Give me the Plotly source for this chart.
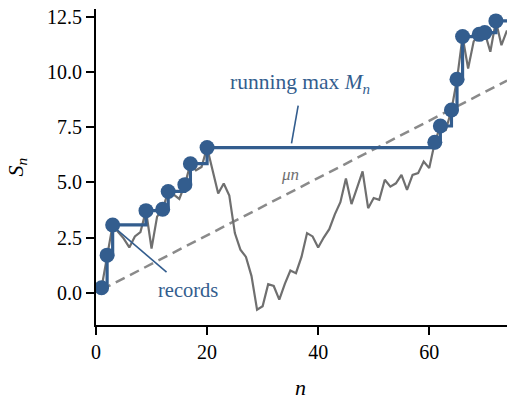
import plotly.graph_objects as go

# ---- data ----
n_vals = list(range(1, 75))
S_vals = [0.22, 1.70, 3.07, 2.75, 2.45, 2.05, 2.55, 2.75, 3.72, 2.00,
          3.45, 3.78, 4.59, 4.45, 4.25, 4.90, 5.85, 5.55, 5.70, 6.58,
          5.50, 4.50, 4.95, 4.40, 2.70, 1.95, 1.62, 0.75, -0.78, -0.62,
          0.38, 0.30, -0.32, 0.40, 1.00, 0.88, 1.62, 2.70, 2.55, 2.05,
          2.50, 2.88, 3.55, 4.10, 5.18, 4.02, 4.75, 5.50, 3.83, 4.29,
          4.21, 5.12, 4.81, 4.96, 5.34, 4.66, 5.34, 5.42, 5.95, 5.65,
          6.82, 7.56, 7.40, 8.29, 9.68, 11.62, 10.17, 11.40, 11.72, 11.80,
          10.93, 12.33, 11.23, 11.90]
mu = 0.13
drift_n = [1, 74]
x_ticks = [0, 20, 40, 60]
y_ticks = [0.0, 2.5, 5.0, 7.5, 10.0, 12.5]

# running maximum and records derived from the walk
M_vals = []
rec_n, rec_s = [], []
cur = None
for n, s in zip(n_vals, S_vals):
    if cur is None or s > cur:
        cur = s
        rec_n.append(n)
        rec_s.append(s)
    M_vals.append(cur)
drift_y = [mu * n for n in drift_n]

BLUE = "#335d8e"
GRAY = "#6f6f6f"
DGRAY = "#8a8a8a"
FONT = "Liberation Serif, Times New Roman, serif"

fig = go.Figure()
fig.add_trace(go.Scatter(x=drift_n, y=drift_y, mode="lines",
                         line=dict(color=DGRAY, width=2.5, dash="10px,6px"),
                         hoverinfo="skip"))
fig.add_trace(go.Scatter(x=n_vals, y=S_vals, mode="lines",
                         line=dict(color=GRAY, width=2.2), hoverinfo="skip"))
fig.add_trace(go.Scatter(x=n_vals, y=M_vals, mode="lines",
                         line=dict(color=BLUE, width=3.2, shape="hv"),
                         hoverinfo="skip"))
fig.add_trace(go.Scatter(x=rec_n, y=rec_s, mode="markers",
                         marker=dict(color=BLUE, size=15), hoverinfo="skip"))

# pointer lines for labels
fig.add_shape(type="line", x0=3.6, y0=2.89, x1=12.7, y1=0.93,
              line=dict(color=BLUE, width=1.6))
fig.add_shape(type="line", x0=36.4, y0=8.49, x1=35.2, y1=6.77,
              line=dict(color=BLUE, width=1.6))

fig.add_annotation(x=16.6, y=0.1, text="records", showarrow=False,
                   font=dict(family=FONT, size=20.5, color=BLUE),
                   xanchor="center", yanchor="middle")
fig.add_annotation(x=36.7, y=9.5, text="running max <i>M</i><sub><i>n</i></sub>",
                   showarrow=False, font=dict(family=FONT, size=21.5, color=BLUE),
                   xanchor="center", yanchor="middle")
fig.add_annotation(x=34.9, y=5.36, text="<i>μn</i>", showarrow=False,
                   font=dict(family=FONT, size=17, color=GRAY),
                   xanchor="center", yanchor="middle")
# axis titles
fig.add_annotation(xref="paper", yref="paper", x=(300 - 96) / 411, y=(325 - 388) / 319,
                   text="<i>n</i>", showarrow=False,
                   font=dict(family=FONT, size=22, color="black"),
                   xanchor="center", yanchor="middle")
fig.add_annotation(xref="paper", yref="paper", x=(17 - 96) / 411, y=(325 - 166) / 319,
                   text="<i>S</i><sub><i>n</i></sub>", showarrow=False, textangle=-90,
                   font=dict(family=FONT, size=22, color="black"),
                   xanchor="center", yanchor="middle")

fig.update_layout(
    width=514, height=401,
    margin=dict(l=96, r=7, t=6, b=76),
    plot_bgcolor="white", paper_bgcolor="white",
    showlegend=False,
    font=dict(family=FONT, size=20, color="black"),
)
fig.update_xaxes(range=[0, 74], tickvals=x_ticks, showgrid=False, zeroline=False,
                 showline=True, linecolor="black", linewidth=2,
                 ticks="outside", ticklen=8, tickwidth=2, tickcolor="black",
                 tickfont=dict(family=FONT, size=20))
fig.update_yaxes(range=[-1.47, 12.87], tickvals=y_ticks, tickformat=".1f",
                 showgrid=False, zeroline=False,
                 showline=True, linecolor="black", linewidth=2,
                 ticks="outside", ticklen=8, tickwidth=2, tickcolor="black",
                 tickfont=dict(family=FONT, size=20))

fig.write_html("out.html")
